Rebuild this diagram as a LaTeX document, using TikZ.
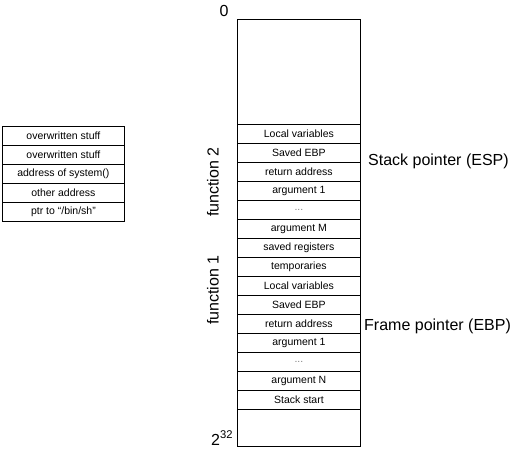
\documentclass[tikz,border=0pt]{standalone}
\usepackage{fontspec}
\setmainfont{Liberation Sans}
% elided entries between the listed arguments
\newcommand\cellgap{\textcolor{gray}{...}}
\begin{document}
\begin{tikzpicture}[x=1pt,y=-1pt,
  frame/.style={draw, line width=0.9pt, inner sep=0pt, anchor=north west},
  cell/.style={draw, line width=0.8pt, minimum width=123pt, minimum height=19pt,
    inner sep=0pt, anchor=north west, font=\fontsize{10.5}{12}\selectfont},
  lcell/.style={cell, minimum width=122pt},
  biglabel/.style={inner sep=0pt, font=\fontsize{16}{18}\selectfont}]
\useasboundingbox (0,0) rectangle (512,456);

% whole stack region, address 0 at the top
\node[frame, minimum width=123pt, minimum height=427pt] (stack) at (237,19) {};

% stack frames
\foreach \txt [count=\i from 0] in {Local variables, Saved EBP, return address,
    argument 1, \cellgap, argument M, saved registers, temporaries,
    Local variables, Saved EBP, return address, argument 1, \cellgap,
    argument N, Stack start}
  \node[cell] (row\i) at (237,124+19*\i) {\txt};

% overwritten stack contents
\foreach \txt [count=\i from 0] in {overwritten stuff, overwritten stuff,
    address of system(), other address, ptr to ``/bin/sh''}
  \node[lcell] (ov\i) at (2,126+19*\i) {\txt};

% address labels
\node[biglabel] (zero) at (224,11) {0};
\node[biglabel, anchor=base west] (top) at (211,445) {2\textsuperscript{32}};

% function labels
\node[biglabel, rotate=90] (f2) at (213,182) {function 2};
\node[biglabel, rotate=90] (f1) at (213,290) {function 1};

% register labels
\node[biglabel, anchor=west] (esp) at (368,161) {Stack pointer (ESP)};
\node[biglabel, anchor=west] (ebp) at (364,326) {Frame pointer (EBP)};
\end{tikzpicture}
\end{document}
